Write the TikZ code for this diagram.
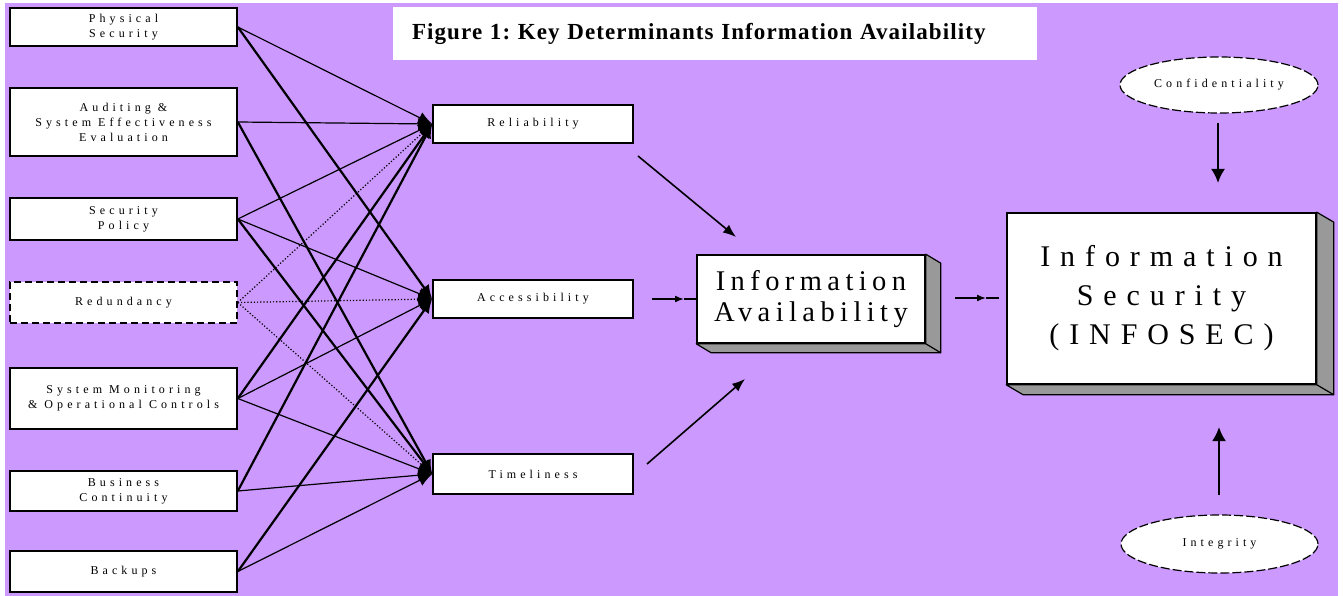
\documentclass[tikz,border=0pt]{standalone}
\usepackage{fontspec}
\setmainfont{Liberation Serif}
\newfontfamily\spacedfont[LetterSpace=34]{Liberation Serif}
\newfontfamily\iafont[LetterSpace=19]{Liberation Serif}
\newfontfamily\isfont[LetterSpace=33]{Liberation Serif}
\newfontfamily\titlefont[LetterSpace=4.8]{Liberation Serif}
\usetikzlibrary{arrows.meta,calc,shapes.geometric}
\definecolor{bgpurple}{RGB}{204,153,255}
\definecolor{shadegray}{RGB}{153,153,153}
\frenchspacing
\begin{document}
\begin{tikzpicture}[x=1pt,y=-1pt,
  bx/.style={draw, line width=1.6pt, fill=white, inner sep=0pt, align=center, font=\spacedfont\fontsize{12}{15}\selectfont},
  lbox/.style={bx, minimum width=227pt},
  mbox/.style={bx, minimum width=200pt},
  tipx/.style={-{Latex[length=14pt,width=12pt]}},
  thinln/.style={tipx, line width=1.2pt},
  thickln/.style={tipx, line width=2.2pt},
  dotln/.style={tipx, line width=1.2pt, dotted},
  ell/.style={ellipse, draw, fill=white, line width=1.2pt, dash pattern=on 9pt off 3pt, inner sep=0pt, font=\spacedfont\fontsize{12}{14}\selectfont},
  threed/.style={draw, line width=1.6pt, fill=white, inner sep=0pt, align=center},
  shadeface/.style={fill=shadegray, draw, line width=1.2pt, line join=round},
  bigarr/.style={line width=1.6pt, -{Latex[length=13pt,width=10pt]}},
  midarr/.style={line width=1.6pt, -{Latex[length=9pt,width=7pt]}},
  plainln/.style={line width=1.6pt},
  titlebox/.style={fill=white, minimum width=644pt, minimum height=53pt, text width=606pt, inner xsep=19pt, inner ysep=0pt, align=left, font=\titlefont\bfseries\fontsize{23}{27}\selectfont}
]
\useasboundingbox (0,0) rectangle (1343,596);
\fill[white] (0,0) rectangle (1343,596);
\fill[bgpurple] (5,3) rectangle (1338,596);

% title
\node[titlebox] (title) at (715,33.5) {Figure 1: Key Determinants Information Availability};

% left boxes
\node[lbox, minimum height=38pt] (P) at (123.5,27) {Physical\\Security};
\node[lbox, minimum height=68pt] (A) at (123.5,122) {Auditing \&\\System Effectiveness\\Evaluation};
\node[lbox, minimum height=42pt] (S) at (123.5,219) {Security\\Policy};
\node[lbox, minimum height=41pt, dashed, dash pattern=on 7pt off 4pt] (R) at (123.5,302.5) {Redundancy};
\node[lbox, minimum height=61pt] (M) at (123.5,398.5) {System Monitoring\\\& Operational Controls};
\node[lbox, minimum height=40pt] (B) at (123.5,491) {Business\\Continuity};
\node[lbox, minimum height=41pt] (K) at (123.5,571.5) {Backups};

% middle boxes
\node[mbox, minimum height=38pt] (rel) at (533,124) {Reliability};
\node[mbox, minimum height=38pt] (acc) at (533,299) {Accessibility};
\node[mbox, minimum height=40pt] (tim) at (533,474) {Timeliness};

% connectors to reliability
\draw[thinln] (P.east) -- (rel.west);
\draw[thinln] (A.east) -- (rel.west);
\draw[thinln] (S.east) -- (rel.west);
\draw[dotln] (R.east) -- (rel.west);
\draw[thickln] (M.east) -- (rel.west);
\draw[thickln] (B.east) -- (rel.west);
% connectors to accessibility
\draw[thickln] (P.east) -- (acc.west);
\draw[thinln] (S.east) -- (acc.west);
\draw[dotln] (R.east) -- (acc.west);
\draw[thinln] (M.east) -- (acc.west);
\draw[thickln] (K.east) -- (acc.west);
% connectors to timeliness
\draw[thickln] (A.east) -- (tim.west);
\draw[thickln] (S.east) -- (tim.west);
\draw[dotln] (R.east) -- (tim.west);
\draw[thinln] (M.east) -- (tim.west);
\draw[thinln] (B.east) -- (tim.west);
\draw[thinln] (K.east) -- (tim.west);

% information availability (3D box)
\node[threed, minimum width=228pt, minimum height=88pt, font=\iafont\fontsize{28.5}{31}\selectfont] (IA) at (811,299) {Information\\Availability};
\draw[shadeface] (IA.north east) -- ++(15,9) -- ($(IA.south east)+(15,9)$) -- ($(IA.south west)+(15,9)$) -- (IA.south west) -- (IA.south east) -- cycle;
\draw[line width=1.2pt] (IA.south east) -- ++(15,9);

% information security (3D box)
\node[threed, minimum width=309pt, minimum height=171pt, font=\isfont\fontsize{30}{39}\selectfont] (IS) at (1161.5,298.5) {Information\\Security\\(INFOSEC)};
\draw[shadeface] (IS.north east) -- ++(17,10) -- ($(IS.south east)+(17,10)$) -- ($(IS.south west)+(17,10)$) -- (IS.south west) -- (IS.south east) -- cycle;
\draw[line width=1.2pt] (IS.south east) -- ++(17,10);

% ellipses
\node[ell, minimum width=198pt, minimum height=56pt] (conf) at (1219,85) {Confidentiality};
\node[ell, minimum width=197pt, minimum height=58pt] (integ) at (1219.5,544) {Integrity};

% arrows to IA
\coordinate (r1) at (638,156);
\coordinate (r2) at (736,237);
\coordinate (t1) at (647,464);
\coordinate (t2) at (745,379);
\coordinate (a1) at (652,299);
\coordinate (a2) at (684,299);
\draw[bigarr] (r1) -- (r2);
\draw[bigarr] (t1) -- (t2);
\draw[midarr] (a1) -- (a2);
\draw[plainln] (a2) -- (IA.west);

% IA to IS
\coordinate (i1) at (955,298);
\coordinate (i2) at (986,298);
\coordinate (i3) at (999,298);
\draw[midarr] (i1) -- (i2);
\draw[plainln] (i2) -- (i3);

% ellipse arrows
\coordinate (c1) at (1218,123);
\coordinate (c2) at (1218,183);
\coordinate (g1) at (1219,495);
\coordinate (g2) at (1219,427);
\draw[line width=2.2pt, -{Latex[length=14pt,width=14pt]}] (c1) -- (c2);
\draw[line width=2.2pt, -{Latex[length=14pt,width=14pt]}] (g1) -- (g2);
\end{tikzpicture}
\end{document}
